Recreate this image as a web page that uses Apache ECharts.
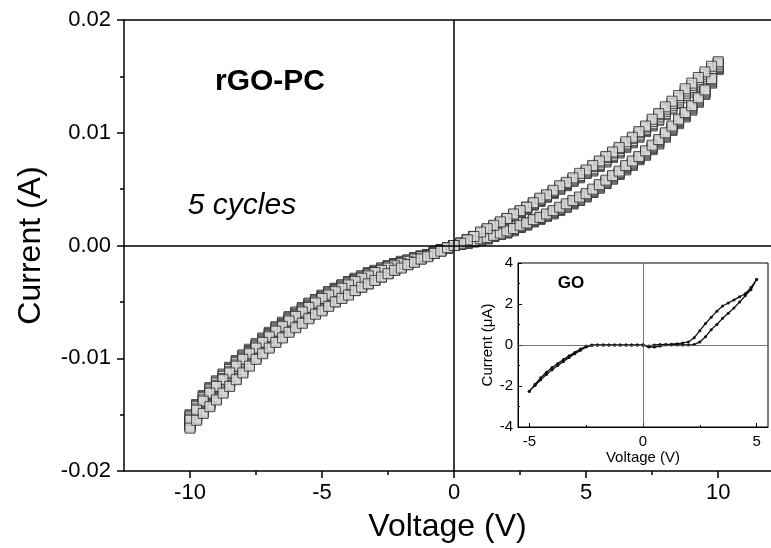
<!DOCTYPE html>
<html><head><meta charset="utf-8">
<script src="https://cdn.jsdelivr.net/npm/echarts@6/dist/echarts.min.js"></script>
<style>html,body{margin:0;padding:0;background:#fff}#c{width:771px;height:548px}</style>
</head><body><div id="c"></div>
<script>
// Voltage sweep steps (V), magnitude; negative branches use -V
const VOLTAGE_STEPS = [0,0.25,0.5,0.75,1,1.25,1.5,1.75,2,2.25,2.5,2.75,3,3.25,3.5,3.75,4,4.25,4.5,4.75,5,5.25,5.5,5.75,6,6.25,6.5,6.75,7,7.25,7.5,7.75,8,8.25,8.5,8.75,9,9.25,9.5,9.75,10];

// rGO-PC currents in mA, 5 cycles, indexed by VOLTAGE_STEPS
const POS_FWD = [
 [0,0.1,0.2,0.3,0.5,0.6,0.8,1.0,1.1,1.3,1.6,1.8,2.1,2.3,2.6,2.8,3.1,3.4,3.7,4.0,4.3,4.7,5.1,5.5,5.9,6.3,6.7,7.1,7.6,8.0,8.5,9.0,9.6,10.2,10.8,11.4,12.0,12.7,13.4,14.4,15.6],
 [0,0.1,0.2,0.4,0.5,0.6,0.8,1.0,1.2,1.4,1.6,1.9,2.1,2.4,2.6,2.9,3.2,3.4,3.7,4.0,4.4,4.7,5.1,5.5,5.9,6.4,6.8,7.2,7.7,8.1,8.6,9.1,9.7,10.3,10.9,11.5,12.1,12.8,13.5,14.5,15.7],
 [0,0.1,0.2,0.4,0.5,0.6,0.8,1.0,1.2,1.4,1.7,1.9,2.2,2.4,2.7,2.9,3.2,3.5,3.8,4.1,4.4,4.8,5.2,5.6,6.0,6.4,6.9,7.3,7.7,8.2,8.7,9.2,9.8,10.4,11.0,11.6,12.2,12.9,13.6,14.6,15.8],
 [0,0.1,0.3,0.4,0.5,0.7,0.9,1.0,1.2,1.5,1.7,2.0,2.2,2.5,2.7,3.0,3.3,3.6,3.9,4.2,4.5,4.9,5.3,5.7,6.1,6.5,7.0,7.4,7.8,8.3,8.8,9.3,9.9,10.5,11.1,11.7,12.3,13.0,13.7,14.7,15.9],
 [0,0.1,0.3,0.4,0.6,0.7,0.9,1.1,1.3,1.5,1.8,2.0,2.3,2.5,2.8,3.1,3.4,3.7,4.0,4.3,4.6,5.0,5.4,5.8,6.2,6.6,7.1,7.5,7.9,8.4,8.9,9.4,10.0,10.6,11.2,11.8,12.4,13.1,13.8,14.8,16.1]
];
const POS_RET = [
 [0,0.2,0.5,0.8,1.1,1.4,1.7,2.0,2.3,2.6,2.9,3.2,3.6,3.9,4.3,4.6,5.0,5.3,5.7,6.0,6.4,6.6,7.0,7.4,7.8,8.2,8.7,9.1,9.6,10.1,10.6,11.1,11.6,12.1,12.6,13.1,13.6,14.1,14.6,15.2,15.8],
 [0,0.2,0.5,0.8,1.1,1.4,1.7,2.0,2.3,2.7,3.0,3.3,3.6,4.0,4.3,4.7,5.0,5.4,5.7,6.1,6.4,6.7,7.1,7.5,7.9,8.3,8.8,9.2,9.7,10.2,10.7,11.2,11.7,12.2,12.7,13.3,13.8,14.3,14.8,15.4,15.9],
 [0,0.2,0.5,0.8,1.1,1.4,1.7,2.0,2.3,2.7,3.0,3.3,3.7,4.0,4.4,4.7,5.1,5.4,5.8,6.1,6.5,6.8,7.2,7.6,8.0,8.4,8.9,9.3,9.8,10.3,10.8,11.4,11.9,12.4,12.9,13.5,14.0,14.5,15.0,15.5,16.0],
 [0,0.2,0.5,0.8,1.1,1.4,1.7,2.0,2.4,2.7,3.0,3.4,3.7,4.1,4.4,4.8,5.2,5.5,5.9,6.2,6.6,7.0,7.4,7.8,8.2,8.6,9.0,9.5,10.0,10.5,11.0,11.6,12.1,12.6,13.1,13.7,14.2,14.7,15.2,15.7,16.2],
 [0,0.2,0.5,0.8,1.2,1.5,1.8,2.1,2.4,2.8,3.1,3.4,3.8,4.2,4.5,4.9,5.3,5.6,6.0,6.4,6.7,7.1,7.5,7.9,8.3,8.7,9.2,9.6,10.1,10.6,11.2,11.7,12.3,12.8,13.3,13.9,14.4,14.9,15.4,15.9,16.3]
];
const NEG_FWD = [
 [0,-0.2,-0.4,-0.6,-0.8,-0.9,-1.1,-1.3,-1.4,-1.6,-1.8,-2.0,-2.2,-2.4,-2.7,-2.9,-3.2,-3.5,-3.8,-4.1,-4.4,-4.8,-5.1,-5.5,-5.9,-6.3,-6.8,-7.2,-7.7,-8.2,-8.7,-9.2,-9.7,-10.2,-10.8,-11.4,-12.0,-12.6,-13.3,-14.1,-15.0],
 [0,-0.2,-0.4,-0.6,-0.8,-1.0,-1.1,-1.3,-1.5,-1.6,-1.8,-2.0,-2.3,-2.5,-2.7,-3.0,-3.2,-3.5,-3.8,-4.1,-4.5,-4.8,-5.2,-5.6,-6.0,-6.4,-6.9,-7.3,-7.8,-8.3,-8.8,-9.3,-9.8,-10.3,-10.9,-11.5,-12.1,-12.7,-13.4,-14.2,-15.1],
 [0,-0.2,-0.4,-0.6,-0.8,-1.0,-1.1,-1.3,-1.5,-1.7,-1.9,-2.1,-2.3,-2.5,-2.8,-3.0,-3.3,-3.6,-3.9,-4.2,-4.5,-4.9,-5.3,-5.7,-6.1,-6.5,-7.0,-7.4,-7.9,-8.4,-8.9,-9.4,-9.9,-10.4,-11.0,-11.6,-12.2,-12.8,-13.5,-14.3,-15.2],
 [0,-0.2,-0.4,-0.6,-0.8,-1.0,-1.2,-1.4,-1.5,-1.7,-1.9,-2.2,-2.4,-2.6,-2.9,-3.1,-3.4,-3.7,-4.0,-4.3,-4.6,-5.0,-5.4,-5.8,-6.2,-6.6,-7.1,-7.5,-8.0,-8.5,-9.0,-9.5,-10.0,-10.6,-11.2,-11.8,-12.4,-13.0,-13.7,-14.5,-15.4],
 [0,-0.2,-0.5,-0.7,-0.9,-1.0,-1.2,-1.4,-1.6,-1.8,-2.0,-2.2,-2.4,-2.7,-2.9,-3.2,-3.5,-3.8,-4.1,-4.4,-4.7,-5.1,-5.5,-5.9,-6.3,-6.7,-7.2,-7.6,-8.1,-8.6,-9.1,-9.6,-10.1,-10.7,-11.3,-11.9,-12.5,-13.1,-13.8,-14.6,-15.5]
];
const NEG_RET = [
 [0,-0.2,-0.4,-0.6,-0.8,-1.1,-1.3,-1.6,-1.8,-2.1,-2.3,-2.6,-2.9,-3.2,-3.5,-3.8,-4.1,-4.4,-4.7,-5.1,-5.4,-5.8,-6.2,-6.5,-6.9,-7.3,-7.8,-8.2,-8.7,-9.2,-9.7,-10.2,-10.8,-11.4,-12.0,-12.6,-13.3,-13.9,-14.5,-15.1,-15.8],
 [0,-0.2,-0.4,-0.6,-0.9,-1.1,-1.3,-1.6,-1.9,-2.1,-2.4,-2.7,-3.0,-3.2,-3.5,-3.8,-4.1,-4.5,-4.8,-5.1,-5.5,-5.9,-6.2,-6.6,-7.0,-7.4,-7.9,-8.3,-8.8,-9.3,-9.8,-10.3,-10.9,-11.5,-12.1,-12.7,-13.4,-14.0,-14.6,-15.2,-15.9],
 [0,-0.2,-0.4,-0.6,-0.9,-1.1,-1.4,-1.6,-1.9,-2.1,-2.4,-2.7,-3.0,-3.3,-3.6,-3.9,-4.2,-4.5,-4.9,-5.2,-5.6,-5.9,-6.3,-6.7,-7.1,-7.5,-8.0,-8.4,-8.9,-9.4,-9.9,-10.4,-11.0,-11.6,-12.2,-12.8,-13.5,-14.1,-14.7,-15.3,-16.0],
 [0,-0.2,-0.4,-0.7,-0.9,-1.2,-1.4,-1.7,-1.9,-2.2,-2.5,-2.8,-3.1,-3.4,-3.7,-4.0,-4.3,-4.6,-5.0,-5.3,-5.7,-6.0,-6.4,-6.8,-7.2,-7.6,-8.1,-8.5,-9.0,-9.5,-10.0,-10.6,-11.2,-11.8,-12.4,-13.0,-13.6,-14.2,-14.8,-15.4,-16.1],
 [0,-0.2,-0.5,-0.7,-1.0,-1.2,-1.5,-1.7,-2.0,-2.2,-2.5,-2.8,-3.1,-3.4,-3.7,-4.0,-4.4,-4.7,-5.0,-5.4,-5.8,-6.1,-6.5,-6.9,-7.3,-7.7,-8.2,-8.6,-9.1,-9.6,-10.1,-10.7,-11.3,-11.9,-12.5,-13.1,-13.7,-14.3,-14.9,-15.5,-16.2]
];

// GO inset: voltage steps (V) and currents (uA)
const INSET_V = [0,0.25,0.5,0.75,1,1.25,1.5,1.75,2,2.25,2.5,2.75,3,3.25,3.5,3.75,4,4.25,4.5,4.75,5];
const INSET_POS_FWD = [0,-0.1,-0.1,-0.05,0,0,0,0,0,0.02,0.15,0.4,0.75,1.0,1.3,1.55,1.8,2.1,2.4,2.7,3.2];
const INSET_POS_RET = [0,-0.05,0,0.02,0.03,0.04,0.06,0.1,0.15,0.35,0.7,1.05,1.35,1.65,1.9,2.05,2.2,2.35,2.5,2.8,3.2];
const INSET_NEG_FWD = [0,0,0,0,0,0,0,0,0,0,-0.05,-0.2,-0.36,-0.53,-0.71,-0.9,-1.1,-1.33,-1.6,-1.92,-2.25];
const INSET_NEG_RET = [0,0,0,0,0,0,0,0,0,-0.02,-0.1,-0.26,-0.43,-0.61,-0.8,-1.0,-1.21,-1.44,-1.7,-1.98,-2.25];

// tick labels
const X_TICKS = [-10,-5,0,5,10];
const X_MINOR = [-7.5,-2.5,2.5,7.5];
const INSET_X_TICKS = [-5,0,5];
const INSET_X_MINOR = [-2.5,2.5];

const mainPts = [];
for (let c = 0; c < POS_FWD.length; c++) {
  const n = VOLTAGE_STEPS.length;
  for (let i = 0; i < n; i++) mainPts.push([VOLTAGE_STEPS[i], POS_FWD[c][i] / 1000]);
  for (let i = n - 1; i >= 0; i--) mainPts.push([VOLTAGE_STEPS[i], POS_RET[c][i] / 1000]);
  for (let i = 0; i < n; i++) mainPts.push([-VOLTAGE_STEPS[i], NEG_FWD[c][i] / 1000]);
  for (let i = n - 1; i >= 0; i--) mainPts.push([-VOLTAGE_STEPS[i], NEG_RET[c][i] / 1000]);
}
const insetPts = [];
{
  const n = INSET_V.length;
  for (let i = 0; i < n; i++) insetPts.push([INSET_V[i], INSET_POS_FWD[i]]);
  for (let i = n - 1; i >= 0; i--) insetPts.push([INSET_V[i], INSET_POS_RET[i]]);
  for (let i = 0; i < n; i++) insetPts.push([-INSET_V[i], INSET_NEG_FWD[i]]);
  for (let i = n - 1; i >= 0; i--) insetPts.push([-INSET_V[i], INSET_NEG_RET[i]]);
}

const FONT = "'Liberation Sans', Arial, sans-serif";
const BLACK = '#000';
const chart = echarts.init(document.getElementById('c'), null, {renderer: 'canvas'});
const none = {show: false};
chart.setOption({
  animation: false,
  backgroundColor: '#fff',
  grid: [
    {left: 124, right: 0, top: 20, bottom: 77},
    {left: 518, top: 263, width: 250, height: 164, show: true, backgroundColor: '#fff', borderColor: BLACK, borderWidth: 1}
  ],
  xAxis: [
    {gridIndex: 0, type: 'value', min: -12.5, max: 12, position: 'bottom',
     axisLine: {onZero: false, lineStyle: {color: BLACK, width: 1.5}},
     axisTick: {customValues: X_TICKS, length: 7, lineStyle: {color: BLACK, width: 1.5}},
     axisLabel: {customValues: X_TICKS, fontSize: 22, color: BLACK, margin: 11, fontFamily: FONT},
     splitLine: none,
     name: 'Voltage (V)', nameLocation: 'middle', nameGap: 40,
     nameTextStyle: {fontSize: 32, color: BLACK, fontFamily: FONT}},
    {gridIndex: 0, type: 'value', min: -12.5, max: 12, position: 'bottom',
     axisLine: {show: false, onZero: false},
     axisTick: {customValues: X_MINOR, length: 4, lineStyle: {color: BLACK, width: 1.5}},
     axisLabel: none, splitLine: none},
    {gridIndex: 0, type: 'value', min: -12.5, max: 12, position: 'top',
     axisLine: {onZero: false, lineStyle: {color: BLACK, width: 1.5}},
     axisTick: none, axisLabel: none, splitLine: none},
    {gridIndex: 1, type: 'value', min: -5.5, max: 5.5, position: 'bottom',
     axisLine: {onZero: false, lineStyle: {color: BLACK, width: 1}},
     axisTick: {customValues: INSET_X_TICKS, inside: true, length: 4, lineStyle: {color: BLACK, width: 1}},
     axisLabel: {customValues: INSET_X_TICKS, fontSize: 15, color: BLACK, margin: 7, fontFamily: FONT},
     splitLine: none,
     name: 'Voltage (V)', nameLocation: 'middle', nameGap: 20,
     nameTextStyle: {fontSize: 15, color: BLACK, fontFamily: FONT}},
    {gridIndex: 1, type: 'value', min: -5.5, max: 5.5, position: 'bottom',
     axisLine: {show: false, onZero: false},
     axisTick: {customValues: INSET_X_MINOR, inside: true, length: 2, lineStyle: {color: BLACK, width: 1}},
     axisLabel: none, splitLine: none}
  ],
  yAxis: [
    {gridIndex: 0, type: 'value', min: -0.02, max: 0.02, interval: 0.01,
     axisLine: {onZero: false, lineStyle: {color: BLACK, width: 1.5}},
     axisTick: {length: 7, lineStyle: {color: BLACK, width: 1.5}},
     minorTick: {show: true, splitNumber: 2, length: 4, lineStyle: {color: BLACK, width: 1.5}},
     axisLabel: {formatter: v => v.toFixed(2), fontSize: 22, color: BLACK, margin: 13, fontFamily: FONT},
     splitLine: none, minorSplitLine: none,
     name: 'Current (A)', nameLocation: 'middle', nameGap: 77,
     nameTextStyle: {fontSize: 32, color: BLACK, fontFamily: FONT}},
    {gridIndex: 1, type: 'value', min: -4, max: 4, interval: 2,
     axisLine: {onZero: false, lineStyle: {color: BLACK, width: 1}},
     axisTick: {inside: true, length: 4, lineStyle: {color: BLACK, width: 1}},
     minorTick: {show: true, splitNumber: 2, length: 2, lineStyle: {color: BLACK, width: 1}},
     axisLabel: {fontSize: 15, color: BLACK, margin: 5, fontFamily: FONT},
     splitLine: none, minorSplitLine: none,
     name: 'Current (\u03bcA)', nameLocation: 'middle', nameGap: 20,
     nameTextStyle: {fontSize: 15, color: BLACK, fontFamily: FONT}}
  ],
  series: [
    {type: 'line', xAxisIndex: 0, yAxisIndex: 0, data: [], z: 1,
     markLine: {silent: true, symbol: 'none', label: none, animation: false,
       lineStyle: {color: BLACK, width: 1.5, type: 'solid'},
       data: [{xAxis: 0}, {yAxis: 0}]}},
    {type: 'scatter', xAxisIndex: 0, yAxisIndex: 0, data: mainPts, z: 2,
     symbol: 'rect', symbolSize: 10, progressive: 0, large: false,
     itemStyle: {color: '#d6d6d6', borderColor: '#2a2a2a', borderWidth: 1}},
    {type: 'line', xAxisIndex: 3, yAxisIndex: 1, data: [], z: 3,
     markLine: {silent: true, symbol: 'none', label: none, animation: false,
       lineStyle: {color: '#555', width: 0.8, type: 'solid'},
       data: [{xAxis: 0}, {yAxis: 0}]}},
    {type: 'line', xAxisIndex: 3, yAxisIndex: 1, data: insetPts, z: 4,
     symbol: 'circle', symbolSize: 3, showSymbol: true, showAllSymbol: true,
     lineStyle: {color: '#111', width: 1.3}, itemStyle: {color: '#111'}}
  ],
  graphic: [
    {type: 'text', x: 270, y: 82, z: 10, style: {text: 'rGO-PC', align: 'center', verticalAlign: 'middle',
      textAlign: 'center', textVerticalAlign: 'middle', font: "bold 30px 'Liberation Sans', Arial, sans-serif", fill: BLACK}},
    {type: 'text', x: 242, y: 206, z: 10, style: {text: '5 cycles', align: 'center', verticalAlign: 'middle',
      textAlign: 'center', textVerticalAlign: 'middle', font: "italic 30px 'Liberation Sans', Arial, sans-serif", fill: BLACK}},
    {type: 'text', x: 571, y: 283, z: 10, style: {text: 'GO', align: 'center', verticalAlign: 'middle',
      textAlign: 'center', textVerticalAlign: 'middle', font: "bold 17px 'Liberation Sans', Arial, sans-serif", fill: BLACK}}
  ]
});
</script></body></html>
